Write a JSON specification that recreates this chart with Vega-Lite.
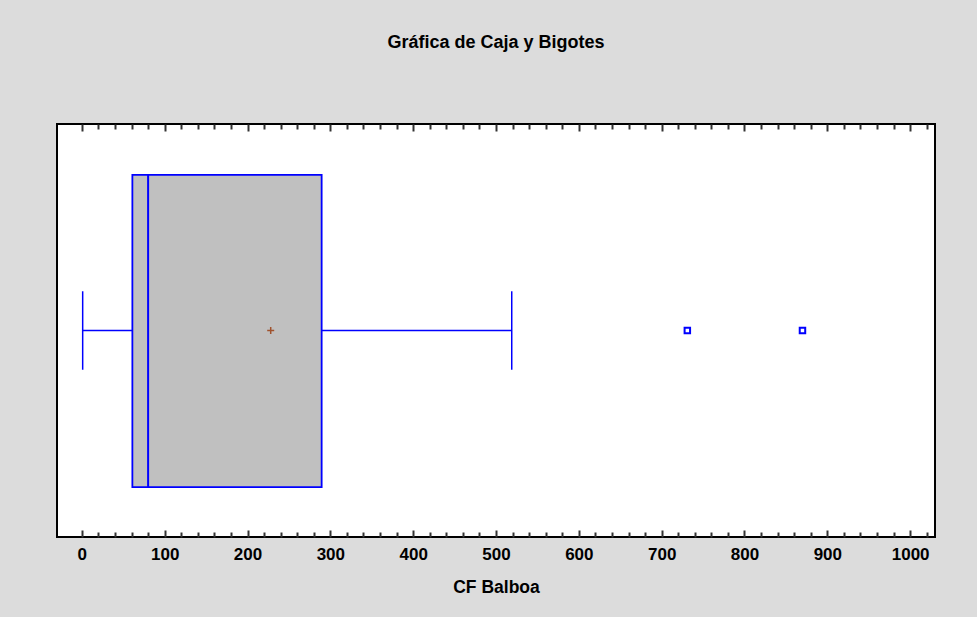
{
  "$schema": "https://vega.github.io/schema/vega-lite/v6.json",
  "autosize": "none",
  "width": 878,
  "height": 413,
  "padding": {"left": 57, "top": 124, "right": 42, "bottom": 80},
  "background": "#DCDCDC",
  "view": {"fill": "white", "stroke": "black", "strokeWidth": 2},
  "title": {
    "text": "Gráfica de Caja y Bigotes",
    "font": "Liberation Sans",
    "fontSize": 18,
    "fontWeight": "bold",
    "color": "black",
    "anchor": "middle",
    "offset": 71
  },
  "datasets": {
    "stats": [{"lower": 1, "q1": 61, "median": 80, "q3": 289.5, "upper": 519, "mean": 228}],
    "outliers": [{"value": 731}, {"value": 870}]
  },
  "config": {
    "axis": {"labelFont": "Liberation Sans", "titleFont": "Liberation Sans"}
  },
  "resolve": {"axis": {"x": "independent", "y": "independent"}},
  "layer": [
    {
      "data": {"name": "stats"},
      "mark": {"type": "rule", "color": "#0000FF", "strokeWidth": 1.5},
      "encoding": {
        "x": {
          "field": "lower",
          "type": "quantitative",
          "scale": {"domain": [-30, 1030], "nice": false, "zero": false},
          "axis": {
            "orient": "bottom",
            "values": [0, 100, 200, 300, 400, 500, 600, 700, 800, 900, 1000],
            "format": "d",
            "tickSize": -7,
            "tickWidth": 2,
            "tickColor": "#333333",
            "domain": false,
            "grid": false,
            "labelFontSize": 17,
            "labelFontWeight": "bold",
            "labelColor": "black",
            "labelPadding": 16,
            "labelFlush": false,
            "title": "CF Balboa",
            "titleFontSize": 17.5,
            "titleFontWeight": "bold",
            "titleColor": "black",
            "titlePadding": 16
          }
        },
        "x2": {"field": "upper"},
        "y": {"datum": 0.5, "type": "quantitative", "scale": {"domain": [0, 1], "nice": false}, "axis": null}
      }
    },
    {
      "data": {"name": "stats"},
      "mark": {"type": "rule", "color": "#0000FF", "strokeWidth": 1.5},
      "encoding": {
        "x": {"field": "lower", "type": "quantitative", "axis": {"orient": "bottom", "values": [20,40,60,80,120,140,160,180,220,240,260,280,320,340,360,380,420,440,460,480,520,540,560,580,620,640,660,680,720,740,760,780,820,840,860,880,920,940,960,980,1020], "tickSize": -5, "tickWidth": 2, "tickColor": "#333333", "domain": false, "grid": false, "labels": false, "title": null}},
        "y": {"datum": 0.405, "type": "quantitative", "axis": null},
        "y2": {"datum": 0.595}
      }
    },
    {
      "data": {"name": "stats"},
      "mark": {"type": "rule", "color": "#0000FF", "strokeWidth": 1.5},
      "encoding": {
        "x": {"field": "upper", "type": "quantitative", "axis": {"orient": "top", "values": [0, 100, 200, 300, 400, 500, 600, 700, 800, 900, 1000], "tickSize": -7, "tickWidth": 2, "tickColor": "#333333", "domain": false, "grid": false, "labels": false, "title": null}},
        "y": {"datum": 0.405, "type": "quantitative", "axis": null},
        "y2": {"datum": 0.595}
      }
    },
    {
      "data": {"name": "stats"},
      "mark": {"type": "rect", "fill": "#C0C0C0", "stroke": "#0000FF", "strokeWidth": 1.8},
      "encoding": {
        "x": {"field": "q1", "type": "quantitative", "axis": {"orient": "top", "values": [20,40,60,80,120,140,160,180,220,240,260,280,320,340,360,380,420,440,460,480,520,540,560,580,620,640,660,680,720,740,760,780,820,840,860,880,920,940,960,980,1020], "tickSize": -5, "tickWidth": 2, "tickColor": "#333333", "domain": false, "grid": false, "labels": false, "title": null}},
        "x2": {"field": "q3"},
        "y": {"datum": 0.121, "type": "quantitative", "axis": null},
        "y2": {"datum": 0.877}
      }
    },
    {
      "data": {"name": "stats"},
      "mark": {"type": "rule", "color": "#0000FF", "strokeWidth": 2},
      "encoding": {
        "x": {"field": "median", "type": "quantitative", "axis": null},
        "y": {"datum": 0.121, "type": "quantitative", "axis": null},
        "y2": {"datum": 0.877}
      }
    },
    {
      "data": {"name": "stats"},
      "mark": {"type": "point", "shape": "M-1,0L1,0M0,-1L0,1", "filled": false, "stroke": "#A0522D", "strokeWidth": 1.5, "size": 49, "opacity": 1},
      "encoding": {
        "x": {"field": "mean", "type": "quantitative", "axis": null},
        "y": {"datum": 0.5, "type": "quantitative", "axis": null}
      }
    },
    {
      "data": {"name": "outliers"},
      "mark": {"type": "point", "shape": "square", "filled": false, "stroke": "#0000FF", "strokeWidth": 2, "size": 30, "opacity": 1},
      "encoding": {
        "x": {"field": "value", "type": "quantitative", "axis": null},
        "y": {"datum": 0.5, "type": "quantitative", "axis": null}
      }
    }
  ]
}
